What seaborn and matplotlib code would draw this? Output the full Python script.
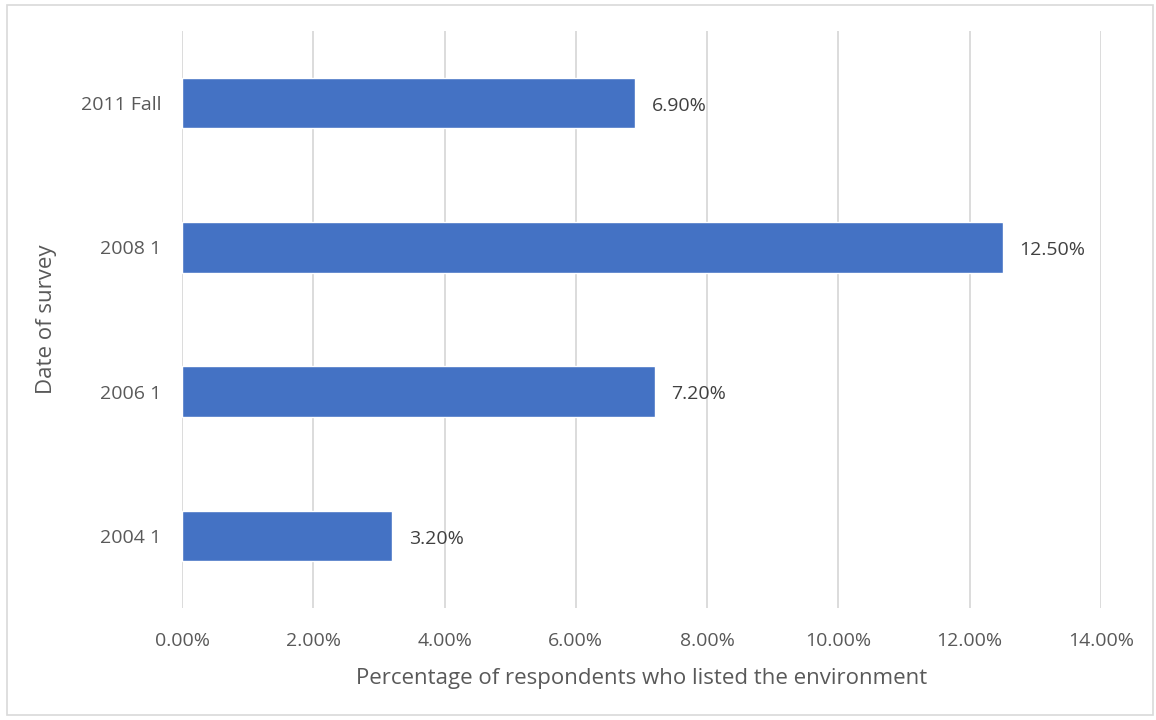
import matplotlib
matplotlib.use("Agg")
import matplotlib.pyplot as plt
import seaborn as sns
import pandas as pd
from matplotlib.ticker import FuncFormatter, MultipleLocator
from matplotlib.patches import Rectangle

categories = ["2011 Fall", "2008 1", "2006 1", "2004 1"]
values = [6.9, 12.5, 7.2, 3.2]
value_labels = ["6.90%", "12.50%", "7.20%", "3.20%"]

df = pd.DataFrame({"survey": categories, "pct": values})

sns.set_theme(style="white")
plt.rcParams["font.family"] = ["Open Sans", "DejaVu Sans"]

fig = plt.figure(figsize=(11.56, 7.2), dpi=100)
ax = fig.add_axes([182/1156, 1-608/720, (1101-182)/1156, (608-31)/720])

sns.barplot(data=df, x="pct", y="survey", orient="h", color="#4472C4",
            width=0.35, saturation=1, ax=ax, zorder=3)

ax.set_xlim(0, 14)
ax.xaxis.set_major_locator(MultipleLocator(2))
ax.xaxis.set_major_formatter(FuncFormatter(lambda v, p: f"{v:.2f}%"))
ax.grid(axis="x", color="#D9D9D9", linewidth=1.3, zorder=0)
ax.grid(axis="y", visible=False)
for s in ax.spines.values():
    s.set_visible(False)
ax.tick_params(axis="both", length=0, labelsize=14, labelcolor="#595959")
ax.tick_params(axis="x", pad=17)
ax.tick_params(axis="y", pad=15)

for i, (v, lab) in enumerate(zip(values, value_labels)):
    ax.annotate(lab, xy=(v, i), xytext=(12, -2), textcoords="offset points",
                va="center", ha="left", fontsize=14, color="#404040")

ax.set_xlabel("Percentage of respondents who listed the environment",
              fontsize=16, color="#595959", labelpad=13)
ax.set_ylabel("Date of survey", fontsize=16, color="#595959", labelpad=17)

fig.patches.append(Rectangle((7/1156, 1-715/720), 1146/1156, 710/720,
                             transform=fig.transFigure, fill=False,
                             edgecolor="#D9D9D9", linewidth=1.2))

fig.savefig("out.png", dpi=100, facecolor="white")
